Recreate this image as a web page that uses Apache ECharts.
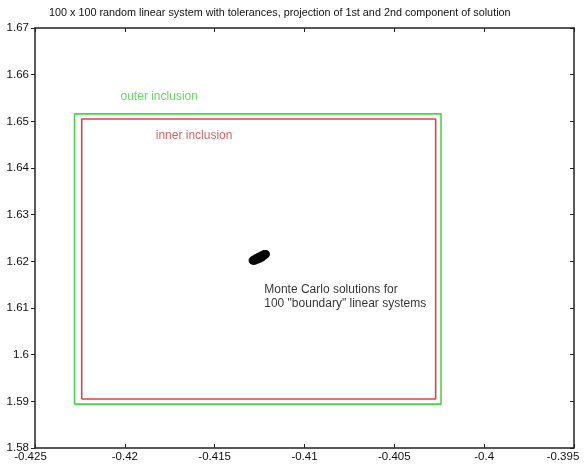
<!DOCTYPE html>
<html>
<head>
<meta charset="utf-8">
<script src="https://cdn.jsdelivr.net/npm/echarts@6/dist/echarts.min.js"></script>
<style>
  html, body { margin: 0; padding: 0; background: #fff; overflow: hidden; }
  #chart { width: 584px; height: 470px; }
</style>
</head>
<body>
<div id="chart"></div>
<script>
// Interval enclosures of the (x1, x2) solution projection: [xmin, xmax, ymin, ymax]
var outerInclusion = [-0.4228, -0.4024, 1.5894, 1.6516];
var innerInclusion = [-0.4224, -0.4027, 1.5905, 1.6505];

// Monte Carlo solutions of the boundary systems, (x1, x2)
var monteCarlo = [
  [-0.41292, 1.62025], [-0.41286, 1.62000], [-0.41284, 1.62048], [-0.41278, 1.62022],
  [-0.41276, 1.62062], [-0.41270, 1.62030], [-0.41268, 1.62072], [-0.41264, 1.62040],
  [-0.41260, 1.62085], [-0.41256, 1.62052], [-0.41254, 1.62098], [-0.41248, 1.62062],
  [-0.41248, 1.62110], [-0.41242, 1.62075], [-0.41240, 1.62122], [-0.41236, 1.62088],
  [-0.41234, 1.62135], [-0.41230, 1.62100], [-0.41228, 1.62145], [-0.41224, 1.62112],
  [-0.41222, 1.62160], [-0.41218, 1.62128], [-0.41216, 1.62170], [-0.41212, 1.62150],
  [-0.41262, 1.62062], [-0.41244, 1.62100], [-0.41280, 1.62040], [-0.41226, 1.62135],
  [-0.41288, 1.62015], [-0.41272, 1.62050], [-0.41250, 1.62085], [-0.41214, 1.62160],
  [-0.41280, 1.61995], [-0.41266, 1.62020], [-0.41252, 1.62040], [-0.41238, 1.62065],
  [-0.41268, 1.62090], [-0.41254, 1.62115], [-0.41240, 1.62140], [-0.41226, 1.62168]
];

// Annotations: [x, y, text, colour]
var annotations = [
  [-0.42024, 1.65525, 'outer inclusion', '#3fd63f'],
  [-0.41828, 1.64691, 'inner inclusion', '#d93a3a'],
  [-0.41224, 1.61250, 'Monte Carlo solutions for\n100 "boundary" linear systems', '#000000']
];

var xRange = [-0.425, -0.395, 0.005];
var yRange = [1.58, 1.67, 0.01];

function boxPath(b) {
  return [[b[0], b[2]], [b[1], b[2]], [b[1], b[3]], [b[0], b[3]], [b[0], b[2]]];
}

var fontFamily = 'Liberation Sans, Arial, sans-serif';
var axisFont = { fontFamily: fontFamily, fontSize: 11.5, color: '#111' };
var axisLine = { show: true, onZero: false, lineStyle: { color: '#222', width: 1.5 } };

// End labels of the x axis are nudged inwards so they stay inside the canvas
function xLabel(v) {
  var s = String(+v.toFixed(3));
  if (Math.abs(v - xRange[1]) < 1e-9) return '{last|' + s + '}';
  if (Math.abs(v - xRange[0]) < 1e-9) return '{first|' + s + '}';
  return s;
}
var edgeStyle = { fontFamily: fontFamily, fontSize: 11.5, color: '#111' };

var chart = echarts.init(document.getElementById('chart'));
chart.setOption({
  animation: false,
  backgroundColor: '#fff',
  title: {
    text: '100 x 100 random linear system with tolerances, projection of 1st and 2nd component of solution',
    left: 44, top: 3,
    textStyle: { fontFamily: fontFamily, fontSize: 10.8, fontWeight: 'normal', color: '#111' }
  },
  grid: { left: 35, right: 10, top: 28, bottom: 22, containLabel: false, outerBoundsMode: 'none' },
  xAxis: [{
    type: 'value', min: xRange[0], max: xRange[1], interval: xRange[2],
    position: 'bottom', axisLine: axisLine,
    axisTick: { show: true, inside: true, length: 4, lineStyle: { color: '#222' } },
    axisLabel: Object.assign({
      margin: 3, formatter: xLabel,
      rich: {
        last: Object.assign({ padding: [0, 22, 0, 0] }, edgeStyle),
        first: Object.assign({ padding: [0, 9, 0, 0] }, edgeStyle)
      }
    }, axisFont),
    splitLine: { show: false }
  }, {
    type: 'value', min: xRange[0], max: xRange[1], interval: xRange[2],
    position: 'top', axisLine: axisLine,
    axisTick: { show: true, inside: true, length: 4, lineStyle: { color: '#222' } },
    axisLabel: { show: false }, splitLine: { show: false }
  }],
  yAxis: [{
    type: 'value', min: yRange[0], max: yRange[1], interval: yRange[2],
    position: 'left', axisLine: axisLine,
    axisTick: { show: true, inside: false, length: 4, lineStyle: { color: '#222' } },
    axisLabel: Object.assign({ margin: 6 }, axisFont),
    splitLine: { show: false }
  }, {
    type: 'value', min: yRange[0], max: yRange[1], interval: yRange[2],
    position: 'right', axisLine: axisLine,
    axisTick: { show: true, inside: true, length: 4, lineStyle: { color: '#222' } },
    axisLabel: { show: false }, splitLine: { show: false }
  }],
  series: [{
    name: 'outer inclusion', type: 'line', data: boxPath(outerInclusion),
    symbol: 'none', lineStyle: { color: '#44d844', width: 1.6 }, silent: true
  }, {
    name: 'inner inclusion', type: 'line', data: boxPath(innerInclusion),
    symbol: 'none', lineStyle: { color: '#d94545', width: 1.6 }, silent: true
  }, {
    name: 'Monte Carlo', type: 'scatter', data: monteCarlo,
    symbol: 'circle', symbolSize: 7, itemStyle: { color: '#000' }
  }, {
    name: 'annotations', type: 'scatter', symbolSize: 0, silent: true,
    data: annotations.map(function (a) {
      return {
        value: [a[0], a[1]],
        label: {
          show: true, position: 'right', distance: 0, formatter: a[2],
          color: a[3], fontSize: 12, lineHeight: 14, fontFamily: fontFamily
        }
      };
    })
  }]
});
</script>
</body>
</html>
